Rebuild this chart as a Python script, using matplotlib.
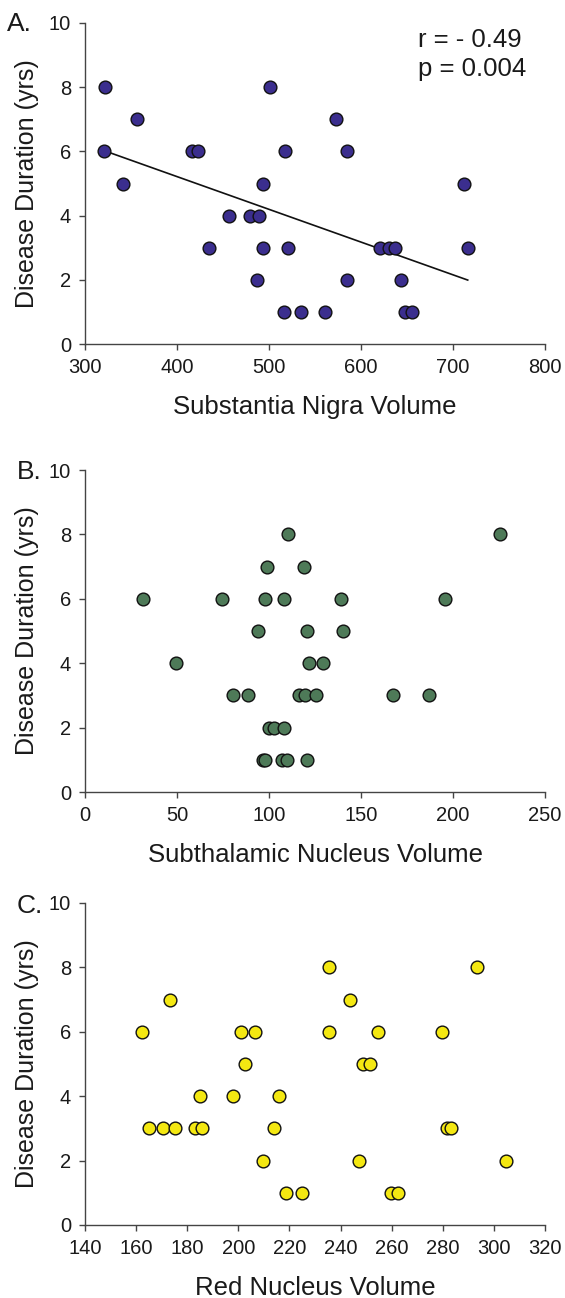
import numpy as np
from matplotlib import pyplot as plt

plt.rcParams['font.family'] = ['Liberation Sans', 'DejaVu Sans']

# A. 흑질 부피 vs 유병기간
sn_volume = [322, 321, 356, 341, 416.5, 423, 435, 457, 479, 489, 487, 494, 494, 501, 517,
             516, 521, 535, 561, 573, 585, 585, 621, 630, 637, 644, 648, 655, 712, 716]
sn_duration = [8, 6, 7, 5, 6, 6, 3, 4, 4, 4, 2, 5, 3, 8, 6,
               1, 3, 1, 1, 7, 6, 2, 3, 3, 3, 2, 1, 1, 5, 3]

# B. 시상하핵 부피
stn_volume = [31.5, 49.3, 74.3, 80.3, 88.4, 94.2, 97.9, 99.1, 110.4, 107.9, 118.8,
              100.1, 102.8, 108.1, 96.6, 97.9, 107.3, 109.9, 120.4, 120.6, 122, 129.4,
              116.5, 119.4, 125.5, 139, 140.3, 167.5, 187.1, 195.7, 225.6]
stn_duration = [6, 4, 6, 3, 3, 5, 6, 7, 8, 6, 7,
                2, 2, 2, 1, 1, 1, 1, 1, 5, 4, 4,
                3, 3, 3, 6, 5, 3, 3, 6, 8]

# C. 적핵 부피
rn_volume = [162.4, 165, 170.7, 175.3, 173.3, 182.9, 185.7, 184.9, 198.1, 200.9, 202.6,
             206.5, 209.5, 214, 216.1, 218.6, 224.8, 235.6, 235.5, 243.6, 247.4, 248.6,
             251.5, 254.8, 259.8, 262.3, 279.6, 281.5, 283.2, 293.3, 304.8]
rn_duration = [6, 3, 3, 3, 7, 3, 3, 4, 4, 6, 5,
               6, 2, 3, 4, 1, 1, 8, 6, 7, 2, 5,
               5, 6, 1, 1, 6, 3, 3, 8, 2]

panels = [
    ('A.', sn_volume, sn_duration, '#3b2e8e', 'Substantia Nigra Volume', (300, 800), 100),
    ('B.', stn_volume, stn_duration, '#4e7a58', 'Subthalamic Nucleus Volume', (0, 250), 50),
    ('C.', rn_volume, rn_duration, '#f4e812', 'Red Nucleus Volume', (140, 320), 20),
]

W, H = 565, 1298
fig = plt.figure(figsize=(W / 100, H / 100), dpi=100)

# 축 위치 (픽셀: 위, 아래)
boxes = [(23, 344), (470, 792), (903, 1225)]
label_pos = [(7, 31), (17, 479), (17, 913)]

for (letter, xs, ys, color, xlabel, xlim, step), (top, bot), (lx, ly) in zip(panels, boxes, label_pos):
    ax = fig.add_axes([85 / W, 1 - bot / H, 460 / W, (bot - top) / H])
    ax.scatter(xs, ys, s=84, c=color, edgecolors='#111111', linewidths=1.0, zorder=3, clip_on=False)
    ax.set_xlim(*xlim)
    ax.set_ylim(0, 10)
    ax.set_xticks(np.arange(xlim[0], xlim[1] + 1, step))
    ax.set_yticks(np.arange(0, 11, 2))
    for s in ['top', 'right']:
        ax.spines[s].set_visible(False)
    for s in ['left', 'bottom']:
        ax.spines[s].set_color('#444444')
        ax.spines[s].set_linewidth(1.0)
    ax.tick_params(direction='out', length=4, width=1.0, color='#444444',
                   labelsize=14.5, labelcolor='#1a1a1a', pad=6)
    ax.set_xlabel(xlabel, fontsize=18.5, color='#1a1a1a', labelpad=13)
    ax.set_ylabel('Disease Duration (yrs)', fontsize=18, color='#1a1a1a', labelpad=7)
    fig.text(lx / W, 1 - ly / H, letter, fontsize=19, color='#1a1a1a', ha='left', va='baseline')

    if letter == 'A.':
        k, b = np.polyfit(xs, ys, 1)
        xx = np.array([min(xs), max(xs)])
        ax.plot(xx, k * xx + b, color='#111111', lw=1.2, zorder=2)
        fig.text(418 / W, 1 - 47 / H, 'r = - 0.49', fontsize=18.5, color='#1a1a1a', va='baseline')
        fig.text(418 / W, 1 - 76 / H, 'p = 0.004', fontsize=18.5, color='#1a1a1a', va='baseline')

fig.savefig('out.png', dpi=100)
